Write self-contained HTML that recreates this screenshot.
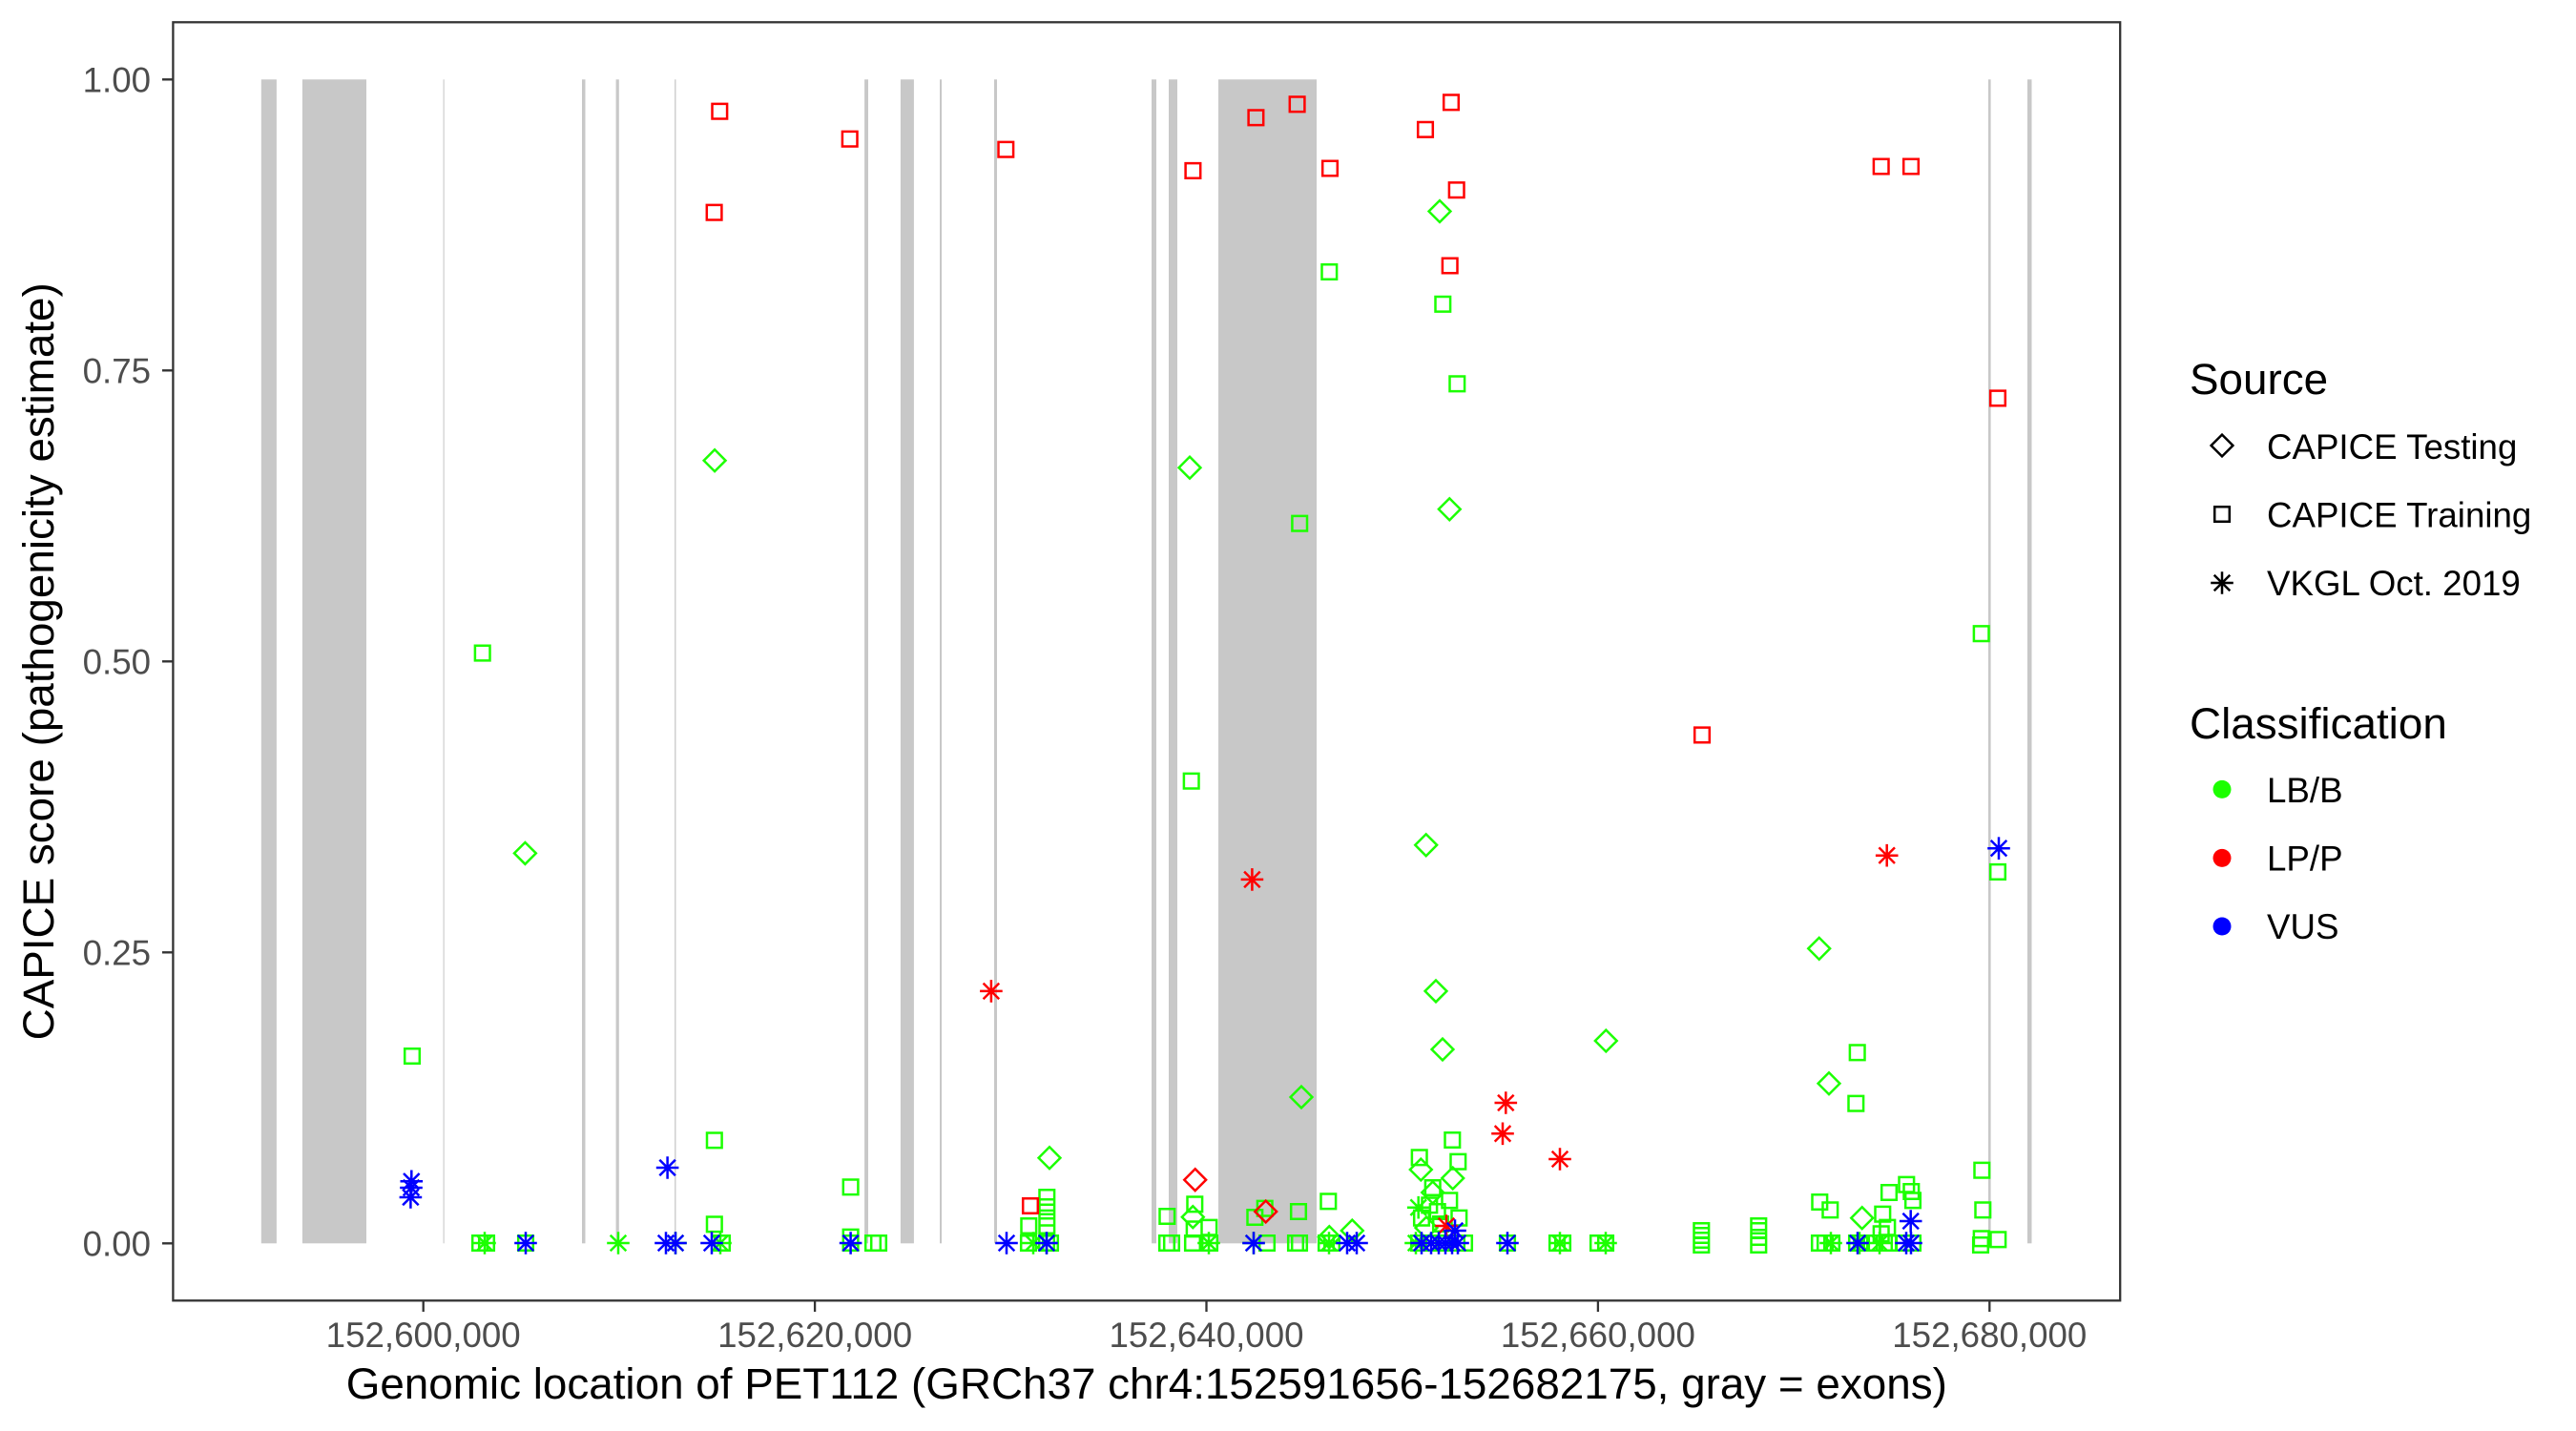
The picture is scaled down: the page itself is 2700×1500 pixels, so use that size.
<!DOCTYPE html>
<html><head><meta charset="utf-8"><style>
html,body{margin:0;padding:0;background:#fff;}
svg{display:block;}
text{font-family:"Liberation Sans",Arial,Helvetica,sans-serif;}
.m{fill:none;stroke-width:2.5;}
</style></head><body>
<svg width="2700" height="1500" viewBox="0 0 2700 1500" xmlns="http://www.w3.org/2000/svg">
<rect x="0" y="0" width="2700" height="1500" fill="#fff"/>
<g fill="#c8c8c8">
<rect x="273.8" y="83.3" width="16.1" height="1220"/>
<rect x="316.9" y="83.3" width="67.1" height="1220"/>
<rect x="464.5" y="83.3" width="1.3" height="1220" fill="#d2d2d2"/>
<rect x="610" y="83.3" width="3.5" height="1220"/>
<rect x="645.6" y="83.3" width="3.2" height="1220"/>
<rect x="707" y="83.3" width="1.5" height="1220" fill="#cfcfcf"/>
<rect x="906.1" y="83.3" width="3.9" height="1220"/>
<rect x="943.9" y="83.3" width="14" height="1220"/>
<rect x="985" y="83.3" width="2" height="1220"/>
<rect x="1042" y="83.3" width="3" height="1220"/>
<rect x="1207" y="83.3" width="5" height="1220"/>
<rect x="1225" y="83.3" width="9" height="1220"/>
<rect x="1277" y="83.3" width="103" height="1220"/>
<rect x="2084" y="83.3" width="2.6" height="1220"/>
<rect x="2125" y="83.3" width="4.5" height="1220"/>
</g>

<path class="m" stroke="#1cff00" d="M1385.5 277.2h15.6v15.6h-15.6z M1504.5 311h15.6v15.6h-15.6z M1519.5 394.5h15.6v15.6h-15.6z M1354.4 540.9h15.6v15.6h-15.6z M497.9 676.8h15.6v15.6h-15.6z M2068.9 656.4h15.6v15.6h-15.6z M1240.9 810.9h15.6v15.6h-15.6z M2086.2 906.1h15.6v15.6h-15.6z M424.2 1099.2h15.6v15.6h-15.6z M1938.9 1095.5h15.6v15.6h-15.6z M1937.5 1148.9h15.6v15.6h-15.6z M741 1187.5h15.6v15.6h-15.6z M741 1275.5h15.6v15.6h-15.6z M883.8 1236.5h15.6v15.6h-15.6z M883.8 1288.9h15.6v15.6h-15.6z M1070.5 1277.2h15.6v15.6h-15.6z M1089.5 1247.2h15.6v15.6h-15.6z M1089.5 1257.2h15.6v15.6h-15.6z M1089.5 1268.9h15.6v15.6h-15.6z M1089.5 1277.2h15.6v15.6h-15.6z M1215.5 1267.2h15.6v15.6h-15.6z M1244.5 1254.5h15.6v15.6h-15.6z M1243.9 1280.5h15.6v15.6h-15.6z M1259.5 1278.9h15.6v15.6h-15.6z M1307.5 1268.2h15.6v15.6h-15.6z M1317.9 1258.9h15.6v15.6h-15.6z M1353.2 1262.2h15.6v15.6h-15.6z M1384.5 1251.5h15.6v15.6h-15.6z M1479.9 1205.5h15.6v15.6h-15.6z M1514.5 1187.2h15.6v15.6h-15.6z M1520.5 1209.9h15.6v15.6h-15.6z M1493.9 1237.2h15.6v15.6h-15.6z M1511.5 1250.5h15.6v15.6h-15.6z M1490.5 1255.5h15.6v15.6h-15.6z M1498.9 1262.2h15.6v15.6h-15.6z M1482.2 1268.9h15.6v15.6h-15.6z M1521.5 1268.9h15.6v15.6h-15.6z M1502.2 1275.2h15.6v15.6h-15.6z M1899.5 1252.2h15.6v15.6h-15.6z M1910.5 1260.5h15.6v15.6h-15.6z M1965.5 1264.9h15.6v15.6h-15.6z M1970.5 1278.9h15.6v15.6h-15.6z M1963.9 1285.5h15.6v15.6h-15.6z M1972.2 1242.2h15.6v15.6h-15.6z M1990.5 1233.9h15.6v15.6h-15.6z M1995.5 1241.2h15.6v15.6h-15.6z M1997.2 1250.5h15.6v15.6h-15.6z M2069.5 1218.9h15.6v15.6h-15.6z M2070.5 1260.5h15.6v15.6h-15.6z M2068.9 1290.5h15.6v15.6h-15.6z M2086.5 1291.5h15.6v15.6h-15.6z M1775.5 1282.2h15.6v15.6h-15.6z M1775.5 1287.2h15.6v15.6h-15.6z M1775.5 1292.2h15.6v15.6h-15.6z M1775.5 1297.2h15.6v15.6h-15.6z M1835.5 1277.2h15.6v15.6h-15.6z M1835.5 1282.2h15.6v15.6h-15.6z M1835.5 1289.2h15.6v15.6h-15.6z M1835.5 1297.2h15.6v15.6h-15.6z M495.2 1295.2h15.6v15.6h-15.6z M502.2 1295.2h15.6v15.6h-15.6z M543.2 1295.2h15.6v15.6h-15.6z M749.2 1295.2h15.6v15.6h-15.6z M883.8 1295.2h15.6v15.6h-15.6z M907.2 1295.2h15.6v15.6h-15.6z M913.2 1295.2h15.6v15.6h-15.6z M1070.2 1295.2h15.6v15.6h-15.6z M1089.2 1295.2h15.6v15.6h-15.6z M1093.2 1295.2h15.6v15.6h-15.6z M1215.2 1295.2h15.6v15.6h-15.6z M1220.2 1295.2h15.6v15.6h-15.6z M1242.2 1295.2h15.6v15.6h-15.6z M1260.2 1295.2h15.6v15.6h-15.6z M1320.2 1295.2h15.6v15.6h-15.6z M1350.2 1295.2h15.6v15.6h-15.6z M1354.2 1295.2h15.6v15.6h-15.6z M1382.2 1295.2h15.6v15.6h-15.6z M1388.2 1295.2h15.6v15.6h-15.6z M1479.2 1295.2h15.6v15.6h-15.6z M1492.2 1295.2h15.6v15.6h-15.6z M1505.2 1295.2h15.6v15.6h-15.6z M1519.2 1295.2h15.6v15.6h-15.6z M1527.2 1295.2h15.6v15.6h-15.6z M1572.2 1295.2h15.6v15.6h-15.6z M1624.2 1295.2h15.6v15.6h-15.6z M1630.2 1295.2h15.6v15.6h-15.6z M1667.2 1295.2h15.6v15.6h-15.6z M1675.2 1295.2h15.6v15.6h-15.6z M1899.2 1295.2h15.6v15.6h-15.6z M1905.2 1295.2h15.6v15.6h-15.6z M1912.2 1295.2h15.6v15.6h-15.6z M1938.2 1295.2h15.6v15.6h-15.6z M1943.2 1295.2h15.6v15.6h-15.6z M1957.2 1295.2h15.6v15.6h-15.6z M1967.2 1295.2h15.6v15.6h-15.6z M1972.2 1295.2h15.6v15.6h-15.6z M1987.2 1295.2h15.6v15.6h-15.6z M1997.2 1295.2h15.6v15.6h-15.6z M2068.2 1297.2h15.6v15.6h-15.6z"/>

<path class="m" stroke="#1cff00" d="M1509 210.1l11.4 11.4-11.4 11.4-11.4-11.4z M1519.3 522.4l11.4 11.4-11.4 11.4-11.4-11.4z M749.1 471.3l11.4 11.4-11.4 11.4-11.4-11.4z M1247 478.8l11.4 11.4-11.4 11.4-11.4-11.4z M550.4 883l11.4 11.4-11.4 11.4-11.4-11.4z M1494.7 874.4l11.4 11.4-11.4 11.4-11.4-11.4z M1505 1027.5l11.4 11.4-11.4 11.4-11.4-11.4z M1512 1088.6l11.4 11.4-11.4 11.4-11.4-11.4z M1364 1138.6l11.4 11.4-11.4 11.4-11.4-11.4z M1683.3 1079.6l11.4 11.4-11.4 11.4-11.4-11.4z M1906.7 982.9l11.4 11.4-11.4 11.4-11.4-11.4z M1917 1124.3l11.4 11.4-11.4 11.4-11.4-11.4z M1100 1202.3l11.4 11.4-11.4 11.4-11.4-11.4z M1250.3 1264.3l11.4 11.4-11.4 11.4-11.4-11.4z M1489.3 1214.6l11.4 11.4-11.4 11.4-11.4-11.4z M1522.7 1223.6l11.4 11.4-11.4 11.4-11.4-11.4z M1501.7 1238.6l11.4 11.4-11.4 11.4-11.4-11.4z M1951.7 1265.3l11.4 11.4-11.4 11.4-11.4-11.4z M1417.3 1278.6l11.4 11.4-11.4 11.4-11.4-11.4z M1393.3 1285.3l11.4 11.4-11.4 11.4-11.4-11.4z M1495 1275.6l11.4 11.4-11.4 11.4-11.4-11.4z"/>

<path class="m" stroke="#1cff00" d="M508 1291.2v23.6m-11.8-11.8h23.6m-20.1-8.3l16.6 16.6m0-16.6l-16.6 16.6 M648 1291.2v23.6m-11.8-11.8h23.6m-20.1-8.3l16.6 16.6m0-16.6l-16.6 16.6 M708 1291.2v23.6m-11.8-11.8h23.6m-20.1-8.3l16.6 16.6m0-16.6l-16.6 16.6 M755 1291.2v23.6m-11.8-11.8h23.6m-20.1-8.3l16.6 16.6m0-16.6l-16.6 16.6 M1083 1291.2v23.6m-11.8-11.8h23.6m-20.1-8.3l16.6 16.6m0-16.6l-16.6 16.6 M1097 1291.2v23.6m-11.8-11.8h23.6m-20.1-8.3l16.6 16.6m0-16.6l-16.6 16.6 M1267 1291.2v23.6m-11.8-11.8h23.6m-20.1-8.3l16.6 16.6m0-16.6l-16.6 16.6 M1314 1291.2v23.6m-11.8-11.8h23.6m-20.1-8.3l16.6 16.6m0-16.6l-16.6 16.6 M1393 1291.2v23.6m-11.8-11.8h23.6m-20.1-8.3l16.6 16.6m0-16.6l-16.6 16.6 M1484 1291.2v23.6m-11.8-11.8h23.6m-20.1-8.3l16.6 16.6m0-16.6l-16.6 16.6 M1635 1291.2v23.6m-11.8-11.8h23.6m-20.1-8.3l16.6 16.6m0-16.6l-16.6 16.6 M1683 1291.2v23.6m-11.8-11.8h23.6m-20.1-8.3l16.6 16.6m0-16.6l-16.6 16.6 M1919 1291.2v23.6m-11.8-11.8h23.6m-20.1-8.3l16.6 16.6m0-16.6l-16.6 16.6 M1949 1291.2v23.6m-11.8-11.8h23.6m-20.1-8.3l16.6 16.6m0-16.6l-16.6 16.6 M1970 1291.2v23.6m-11.8-11.8h23.6m-20.1-8.3l16.6 16.6m0-16.6l-16.6 16.6 M1486.7 1253.9v23.6m-11.8-11.8h23.6m-20.1-8.3l16.6 16.6m0-16.6l-16.6 16.6"/>

<path class="m" stroke="#ff0000" d="M746.5 108.9h15.6v15.6h-15.6z M740.8 214.9h15.6v15.6h-15.6z M882.9 137.9h15.6v15.6h-15.6z M1046.5 148.9h15.6v15.6h-15.6z M1242.6 171.1h15.6v15.6h-15.6z M1308.6 115.5h15.6v15.6h-15.6z M1351.8 101.5h15.6v15.6h-15.6z M1386.2 168.7h15.6v15.6h-15.6z M1513.2 99.5h15.6v15.6h-15.6z M1486.2 128h15.6v15.6h-15.6z M1518.9 191.4h15.6v15.6h-15.6z M1511.9 270.7h15.6v15.6h-15.6z M1776.2 762.6h15.6v15.6h-15.6z M1963.9 166.7h15.6v15.6h-15.6z M1995.2 166.7h15.6v15.6h-15.6z M2086.2 409.6h15.6v15.6h-15.6z M1072.2 1256.2h15.6v15.6h-15.6z"/>

<path class="m" stroke="#ff0000" d="M1252.7 1225.3l11.4 11.4-11.4 11.4-11.4-11.4z M1326.7 1258.6l11.4 11.4-11.4 11.4-11.4-11.4z"/>

<path class="m" stroke="#ff0000" d="M1038.9 1027.1v23.6m-11.8-11.8h23.6m-20.1-8.3l16.6 16.6m0-16.6l-16.6 16.6 M1312.4 910.1v23.6m-11.8-11.8h23.6m-20.1-8.3l16.6 16.6m0-16.6l-16.6 16.6 M1977.7 884.9v23.6m-11.8-11.8h23.6m-20.1-8.3l16.6 16.6m0-16.6l-16.6 16.6 M1578.3 1144.2v23.6m-11.8-11.8h23.6m-20.1-8.3l16.6 16.6m0-16.6l-16.6 16.6 M1575 1176.5v23.6m-11.8-11.8h23.6m-20.1-8.3l16.6 16.6m0-16.6l-16.6 16.6 M1635 1203.2v23.6m-11.8-11.8h23.6m-20.1-8.3l16.6 16.6m0-16.6l-16.6 16.6 M1516 1273.2v23.6m-11.8-11.8h23.6m-20.1-8.3l16.6 16.6m0-16.6l-16.6 16.6"/>

<path class="m" stroke="#0000ff" d="M431.3 1226.5v23.6m-11.8-11.8h23.6m-20.1-8.3l16.6 16.6m0-16.6l-16.6 16.6 M431 1233.2v23.6m-11.8-11.8h23.6m-20.1-8.3l16.6 16.6m0-16.6l-16.6 16.6 M430.4 1243.2v23.6m-11.8-11.8h23.6m-20.1-8.3l16.6 16.6m0-16.6l-16.6 16.6 M699.6 1212.2v23.6m-11.8-11.8h23.6m-20.1-8.3l16.6 16.6m0-16.6l-16.6 16.6 M2095 877.4v23.6m-11.8-11.8h23.6m-20.1-8.3l16.6 16.6m0-16.6l-16.6 16.6 M2002.7 1268.2v23.6m-11.8-11.8h23.6m-20.1-8.3l16.6 16.6m0-16.6l-16.6 16.6 M1525 1278.2v23.6m-11.8-11.8h23.6m-20.1-8.3l16.6 16.6m0-16.6l-16.6 16.6 M551 1291.2v23.6m-11.8-11.8h23.6m-20.1-8.3l16.6 16.6m0-16.6l-16.6 16.6 M698 1291.2v23.6m-11.8-11.8h23.6m-20.1-8.3l16.6 16.6m0-16.6l-16.6 16.6 M708 1291.2v23.6m-11.8-11.8h23.6m-20.1-8.3l16.6 16.6m0-16.6l-16.6 16.6 M746 1291.2v23.6m-11.8-11.8h23.6m-20.1-8.3l16.6 16.6m0-16.6l-16.6 16.6 M891.6 1291.2v23.6m-11.8-11.8h23.6m-20.1-8.3l16.6 16.6m0-16.6l-16.6 16.6 M1055 1291.2v23.6m-11.8-11.8h23.6m-20.1-8.3l16.6 16.6m0-16.6l-16.6 16.6 M1097 1291.2v23.6m-11.8-11.8h23.6m-20.1-8.3l16.6 16.6m0-16.6l-16.6 16.6 M1314 1291.2v23.6m-11.8-11.8h23.6m-20.1-8.3l16.6 16.6m0-16.6l-16.6 16.6 M1412 1291.2v23.6m-11.8-11.8h23.6m-20.1-8.3l16.6 16.6m0-16.6l-16.6 16.6 M1422 1291.2v23.6m-11.8-11.8h23.6m-20.1-8.3l16.6 16.6m0-16.6l-16.6 16.6 M1490 1291.2v23.6m-11.8-11.8h23.6m-20.1-8.3l16.6 16.6m0-16.6l-16.6 16.6 M1500 1291.2v23.6m-11.8-11.8h23.6m-20.1-8.3l16.6 16.6m0-16.6l-16.6 16.6 M1508 1291.2v23.6m-11.8-11.8h23.6m-20.1-8.3l16.6 16.6m0-16.6l-16.6 16.6 M1515 1291.2v23.6m-11.8-11.8h23.6m-20.1-8.3l16.6 16.6m0-16.6l-16.6 16.6 M1522 1291.2v23.6m-11.8-11.8h23.6m-20.1-8.3l16.6 16.6m0-16.6l-16.6 16.6 M1528 1291.2v23.6m-11.8-11.8h23.6m-20.1-8.3l16.6 16.6m0-16.6l-16.6 16.6 M1580 1291.2v23.6m-11.8-11.8h23.6m-20.1-8.3l16.6 16.6m0-16.6l-16.6 16.6 M1947 1291.2v23.6m-11.8-11.8h23.6m-20.1-8.3l16.6 16.6m0-16.6l-16.6 16.6 M1998 1291.2v23.6m-11.8-11.8h23.6m-20.1-8.3l16.6 16.6m0-16.6l-16.6 16.6 M2003 1291.2v23.6m-11.8-11.8h23.6m-20.1-8.3l16.6 16.6m0-16.6l-16.6 16.6"/>

<rect x="181.4" y="23.3" width="2040.8" height="1340" fill="none" stroke="#333333" stroke-width="2.3"/>
<path stroke="#333333" stroke-width="2.3" fill="none" d="M170 83.3H181.4M170 388.3H181.4M170 693.3H181.4M170 998.3H181.4M170 1303.3H181.4M443.7 1363.3V1375M854.1 1363.3V1375M1264.5 1363.3V1375M1674.9 1363.3V1375M2085.3 1363.3V1375"/>
<g fill="#4d4d4d" font-size="36.7">
<text x="158" y="96.6" text-anchor="end">1.00</text>
<text x="158" y="401.6" text-anchor="end">0.75</text>
<text x="158" y="706.6" text-anchor="end">0.50</text>
<text x="158" y="1011.6" text-anchor="end">0.25</text>
<text x="158" y="1316.6" text-anchor="end">0.00</text>
<text x="443.7" y="1412" text-anchor="middle">152,600,000</text>
<text x="854.1" y="1412" text-anchor="middle">152,620,000</text>
<text x="1264.5" y="1412" text-anchor="middle">152,640,000</text>
<text x="1674.9" y="1412" text-anchor="middle">152,660,000</text>
<text x="2085.3" y="1412" text-anchor="middle">152,680,000</text>
</g>
<g fill="#000" font-size="45.8">
<text x="1201.8" y="1466" text-anchor="middle">Genomic location of PET112 (GRCh37 chr4:152591656-152682175, gray = exons)</text>
<text transform="translate(56,693.3) rotate(-90)" text-anchor="middle">CAPICE score (pathogenicity estimate)</text>
<text x="2295" y="413">Source</text>
<text x="2295" y="774">Classification</text>
</g>
<g fill="#000" font-size="36.7">
<text x="2376" y="481">CAPICE Testing</text>
<text x="2376" y="552.5">CAPICE Training</text>
<text x="2376" y="624">VKGL Oct. 2019</text>
<text x="2376" y="841">LB/B</text>
<text x="2376" y="912.5">LP/P</text>
<text x="2376" y="984">VUS</text>
</g>
<path class="m" stroke="#000" d="M2329 455.6l11.4 11.4-11.4 11.4-11.4-11.4z M2321.2 531.2h15.6v15.6h-15.6z M2329 599.2v23.6m-11.8-11.8h23.6m-20.1-8.3l16.6 16.6m0-16.6l-16.6 16.6"/>
<circle cx="2329" cy="827.4" r="9.5" fill="#1cff00"/>
<circle cx="2329" cy="899.4" r="9.5" fill="#ff0000"/>
<circle cx="2329" cy="971" r="9.5" fill="#0000ff"/>
</svg>
</body></html>
